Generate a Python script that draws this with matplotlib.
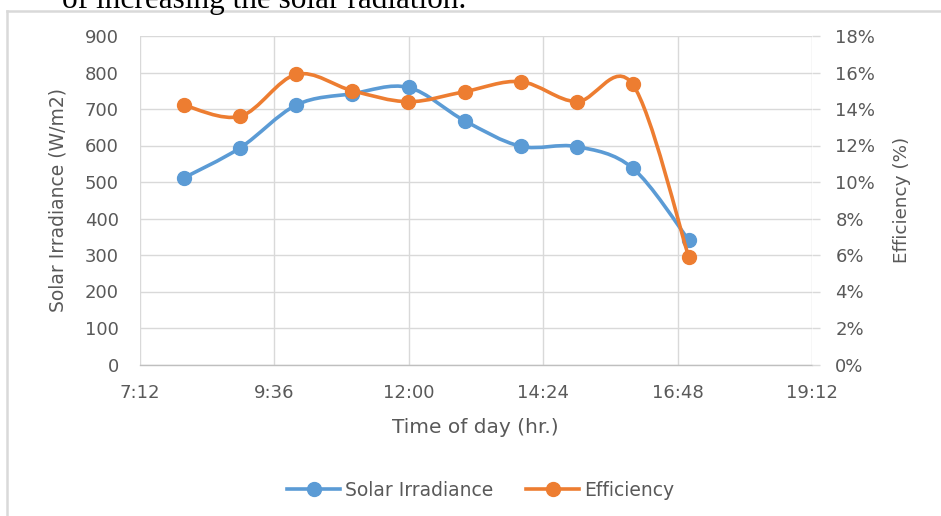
import matplotlib
matplotlib.use("Agg")
import matplotlib.pyplot as plt
import numpy as np
from matplotlib.path import Path
from matplotlib.patches import PathPatch
from matplotlib.lines import Line2D
from matplotlib.ticker import FixedLocator, FuncFormatter, MultipleLocator

# data
times = ["8:00", "9:00", "10:00", "11:00", "12:00", "13:00", "14:00", "15:00", "16:00", "17:00"]
irradiance = [512, 594, 711, 742, 759, 668, 598, 597, 538, 341]      # W/m2
efficiency = [14.2, 13.6, 15.9, 15.0, 14.4, 14.95, 15.5, 14.4, 15.35, 5.9]  # %

x_ticks = ["7:12", "9:36", "12:00", "14:24", "16:48", "19:12"]

BLUE = "#5B9BD5"
ORANGE = "#ED7D31"
GRID = "#D9D9D9"
TXT = "#595959"
FONT = ["DejaVu Sans"]


def to_hours(s):
    h, m = s.split(":")
    return int(h) + int(m) / 60.0


def hhmm(v, _pos=None):
    mins = int(round(v * 60))
    return f"{mins // 60}:{mins % 60:02d}"


def smooth_path(xs, ys):
    # Excel-style smoothed line: Catmull-Rom handles turned into cubic Beziers
    pts = np.column_stack([xs, ys]).astype(float)
    n = len(pts)
    verts = [pts[0]]
    codes = [Path.MOVETO]
    for i in range(n - 1):
        p0 = pts[i - 1] if i > 0 else pts[i]
        p1 = pts[i]
        p2 = pts[i + 1]
        p3 = pts[i + 2] if i + 2 < n else pts[i + 1]
        c1 = p1 + (p2 - p0) / 6.0
        c2 = p2 - (p3 - p1) / 6.0
        verts += [c1, c2, p2]
        codes += [Path.CURVE4] * 3
    return Path(verts, codes)


plt.rcParams["font.family"] = FONT

hours = [to_hours(t) for t in times]
tick_pos = [to_hours(t) for t in x_ticks]

W, H = 941, 516
fig = plt.figure(figsize=(W / 100, H / 100), dpi=100)

# chart frame (only top and left edges fall inside the crop)
fx, fy = 6.5 / W, 1 - 10.5 / H
fig.add_artist(Line2D([fx, 1.01], [fy, fy], transform=fig.transFigure,
                      color="#D9D9D9", linewidth=1.8, zorder=0))
fig.add_artist(Line2D([fx, fx], [fy, -0.01], transform=fig.transFigure,
                      color="#D9D9D9", linewidth=1.8, zorder=0))

# tail of the document sentence above the chart, cut by the crop
fig.text(62 / W, 1 - 8 / H, "of increasing the solar radiation.",
         family=["Liberation Serif"], fontsize=22.5, color="black",
         ha="left", va="baseline")

L, R, T, B = 139.5, 812, 36, 364.5
ax = fig.add_axes([L / W, 1 - B / H, (R - L) / W, (B - T) / H])
ax2 = ax.twinx()

ax.set_xlim(tick_pos[0], tick_pos[-1])
ax.set_ylim(0, 900)
ax2.set_ylim(0, 18)

ax.xaxis.set_major_locator(FixedLocator(tick_pos))
ax.xaxis.set_major_formatter(FuncFormatter(hhmm))
ax.yaxis.set_major_locator(MultipleLocator(100))
ax2.yaxis.set_major_locator(MultipleLocator(2))
ax2.yaxis.set_major_formatter(FuncFormatter(lambda v, p: f"{v:.0f}%"))

ax.grid(True, color=GRID, linewidth=1.0)
ax.set_axisbelow(True)
for a in (ax, ax2):
    for s in a.spines.values():
        s.set_visible(False)
ax.spines["bottom"].set_visible(True)
ax.spines["bottom"].set_color("#BFBFBF")
ax.spines["bottom"].set_linewidth(1.0)

ax.tick_params(axis="x", length=0, pad=14, labelsize=13, labelcolor=TXT)
ax.tick_params(axis="y", length=0, pad=15, labelsize=13, labelcolor=TXT)
ax2.tick_params(axis="y", length=5.8, width=1.0, color=GRID, pad=11,
                labelsize=13, labelcolor=TXT)

# smoothed lines + markers
for a, ys, col in ((ax, irradiance, BLUE), (ax2, efficiency, ORANGE)):
    a.add_patch(PathPatch(smooth_path(hours, ys), facecolor="none", edgecolor=col,
                          linewidth=2.6, capstyle="round", zorder=3))
    a.plot(hours, ys, linestyle="none", marker="o", markersize=10,
           color=col, zorder=4)

ax.set_xlabel("Time of day (hr.)", fontsize=14.5, color=TXT)
ax.set_ylabel("Solar Irradiance (W/m2)", fontsize=13.5, color=TXT)
ax2.set_ylabel("Efficiency (%)", fontsize=13.2, color=TXT)
ax.xaxis.set_label_coords(0.5, (B - 418) / (B - T))
ax.yaxis.set_label_coords((67 - L) / (R - L), 0.5)
ax2.yaxis.set_label_coords((893 - L) / (R - L), 0.5)

handles = [Line2D([], [], color=BLUE, linewidth=2.6, marker="o", markersize=10),
           Line2D([], [], color=ORANGE, linewidth=2.6, marker="o", markersize=10)]
leg = fig.legend(handles, ["Solar Irradiance", "Efficiency"], loc="center",
                 bbox_to_anchor=(481 / W, 1 - 490 / H), ncol=2, frameon=False,
                 fontsize=13.5, handlelength=2.8, columnspacing=1.75, handletextpad=0.3)
for t in leg.get_texts():
    t.set_color(TXT)

fig.savefig("out.png", dpi=100)
